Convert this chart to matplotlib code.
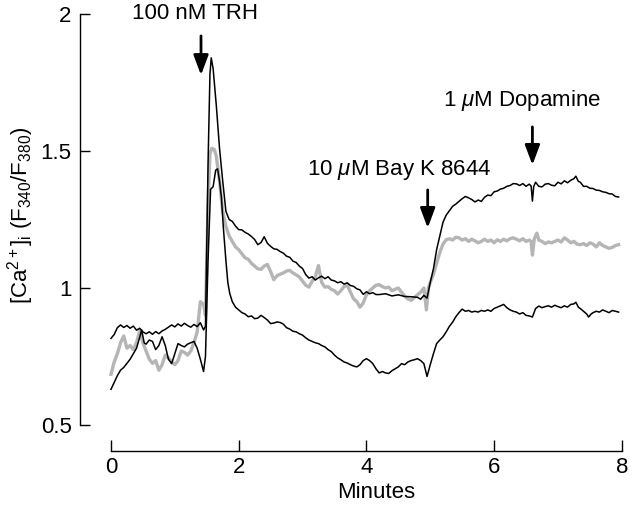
import matplotlib
matplotlib.use('Agg')
import matplotlib.pyplot as plt

# 字体：Helvetica 风格
plt.rcParams['font.family'] = ['Liberation Sans', 'DejaVu Sans']
plt.rcParams['mathtext.fontset'] = 'custom'
plt.rcParams['mathtext.rm'] = 'Liberation Sans'
plt.rcParams['mathtext.it'] = 'Liberation Sans:italic'
plt.rcParams['font.size'] = 16

# ---------- 数据 ----------
# 上面的黑线
t_top = [0.00, 0.05, 0.10, 0.15, 0.20, 0.25, 0.30, 0.35, 0.40, 0.45, 0.50, 0.55, 0.60, 0.65,
         0.70, 0.75, 0.80, 0.85, 0.90, 0.95, 1.00, 1.05, 1.10, 1.15, 1.20, 1.25, 1.30, 1.35,
         1.40, 1.45, 1.48, 1.52, 1.55, 1.57, 1.60, 1.65, 1.70, 1.75, 1.80, 1.85, 1.90, 1.95,
         2.00, 2.05, 2.10, 2.15, 2.20, 2.25, 2.30, 2.35, 2.40, 2.45, 2.50, 2.55, 2.60, 2.65,
         2.70, 2.75, 2.80, 2.85, 2.90, 2.95, 3.00, 3.05, 3.10, 3.15, 3.20, 3.25, 3.30, 3.35,
         3.40, 3.45, 3.50, 3.55, 3.60, 3.65, 3.70, 3.75, 3.80, 3.85, 3.90, 3.95, 4.00, 4.05,
         4.10, 4.15, 4.20, 4.30, 4.40, 4.50, 4.60, 4.70, 4.80, 4.85, 4.90, 4.95, 5.00, 5.05,
         5.10, 5.15, 5.20, 5.25, 5.30, 5.35, 5.40, 5.45, 5.50, 5.55, 5.60, 5.65, 5.70, 5.75,
         5.80, 5.85, 5.90, 5.95, 6.00, 6.05, 6.10, 6.15, 6.20, 6.25, 6.30, 6.35, 6.40, 6.45,
         6.50, 6.55, 6.58, 6.60, 6.62, 6.65, 6.70, 6.75, 6.80, 6.85, 6.90, 6.95, 7.00, 7.05,
         7.10, 7.15, 7.20, 7.25, 7.28, 7.32, 7.35, 7.40, 7.45, 7.50, 7.55, 7.60, 7.65, 7.70,
         7.75, 7.80, 7.85, 7.90, 7.95]
v_top = [0.816, 0.830, 0.855, 0.865, 0.856, 0.863, 0.853, 0.861, 0.846, 0.853, 0.840, 0.833, 0.840, 0.831,
         0.841, 0.833, 0.843, 0.849, 0.857, 0.865, 0.858, 0.869, 0.861, 0.871, 0.863, 0.857, 0.867, 0.859,
         0.873, 0.847, 0.860, 1.450, 1.780, 1.840, 1.800, 1.665, 1.510, 1.390, 1.280, 1.250, 1.243, 1.226,
         1.213, 1.212, 1.203, 1.197, 1.188, 1.177, 1.158, 1.166, 1.187, 1.163, 1.152, 1.143, 1.141, 1.133,
         1.127, 1.116, 1.112, 1.098, 1.093, 1.080, 1.071, 1.049, 1.036, 1.041, 1.029, 1.037, 1.043, 1.034,
         1.041, 1.029, 1.026, 1.019, 1.023, 1.014, 1.019, 1.009, 1.006, 0.997, 0.993, 0.977, 0.986, 0.979,
         0.983, 0.976, 0.976, 0.979, 0.971, 0.975, 0.969, 0.968, 0.966, 0.959, 0.973, 0.963, 1.020, 1.070,
         1.140, 1.190, 1.240, 1.266, 1.282, 1.298, 1.306, 1.316, 1.326, 1.334, 1.329, 1.323, 1.314, 1.321,
         1.316, 1.331, 1.339, 1.337, 1.351, 1.354, 1.361, 1.364, 1.371, 1.374, 1.381, 1.380, 1.374, 1.381,
         1.371, 1.379, 1.372, 1.317, 1.370, 1.386, 1.371, 1.369, 1.379, 1.381, 1.375, 1.373, 1.386, 1.380,
         1.391, 1.384, 1.393, 1.399, 1.408, 1.389, 1.386, 1.371, 1.371, 1.364, 1.363, 1.357, 1.356, 1.351,
         1.349, 1.344, 1.343, 1.334, 1.332]

# 灰线
t_gray = [0.00, 0.05, 0.10, 0.15, 0.20, 0.25, 0.30, 0.35, 0.40, 0.45, 0.50, 0.55, 0.60, 0.65,
          0.70, 0.75, 0.80, 0.85, 0.90, 0.95, 1.00, 1.05, 1.10, 1.15, 1.20, 1.25, 1.30, 1.35,
          1.40, 1.45, 1.48, 1.52, 1.55, 1.58, 1.62, 1.65, 1.70, 1.75, 1.80, 1.85, 1.90, 1.95,
          2.00, 2.05, 2.10, 2.15, 2.20, 2.25, 2.30, 2.35, 2.40, 2.45, 2.50, 2.55, 2.60, 2.65,
          2.70, 2.75, 2.80, 2.85, 2.90, 2.95, 3.00, 3.05, 3.10, 3.15, 3.20, 3.25, 3.30, 3.35,
          3.40, 3.45, 3.50, 3.55, 3.60, 3.65, 3.70, 3.75, 3.80, 3.85, 3.90, 3.95, 4.00, 4.05,
          4.10, 4.15, 4.20, 4.25, 4.30, 4.35, 4.40, 4.45, 4.50, 4.55, 4.60, 4.65, 4.70, 4.75,
          4.80, 4.85, 4.90, 4.94, 4.97, 5.00, 5.05, 5.10, 5.15, 5.20, 5.25, 5.30, 5.35, 5.40,
          5.45, 5.50, 5.55, 5.60, 5.65, 5.70, 5.75, 5.80, 5.85, 5.90, 5.95, 6.00, 6.05, 6.10,
          6.15, 6.20, 6.25, 6.30, 6.35, 6.40, 6.45, 6.50, 6.55, 6.58, 6.60, 6.63, 6.67, 6.70,
          6.75, 6.80, 6.85, 6.90, 6.95, 7.00, 7.05, 7.10, 7.15, 7.20, 7.25, 7.30, 7.35, 7.40,
          7.45, 7.50, 7.55, 7.60, 7.65, 7.70, 7.75, 7.80, 7.85, 7.90, 7.95]
v_gray = [0.685, 0.730, 0.760, 0.800, 0.825, 0.780, 0.790, 0.775, 0.800, 0.845, 0.800, 0.770, 0.740, 0.725,
          0.735, 0.700, 0.720, 0.755, 0.745, 0.730, 0.720, 0.735, 0.770, 0.765, 0.755, 0.770, 0.800, 0.840,
          0.950, 0.940, 0.900, 1.300, 1.490, 1.510, 1.505, 1.480, 1.390, 1.280, 1.225, 1.190, 1.170, 1.150,
          1.140, 1.125, 1.110, 1.105, 1.090, 1.080, 1.070, 1.068, 1.080, 1.086, 1.060, 1.030, 1.045, 1.050,
          1.055, 1.062, 1.064, 1.055, 1.048, 1.040, 1.025, 1.010, 1.003, 1.025, 1.040, 1.082, 1.020, 1.003,
          1.005, 0.995, 0.990, 0.978, 0.990, 1.005, 1.010, 0.985, 0.960, 0.950, 0.930, 0.945, 0.975, 0.990,
          1.000, 1.010, 1.012, 1.005, 1.000, 1.003, 0.990, 0.995, 1.000, 0.985, 0.970, 0.960, 0.955, 0.965,
          0.975, 0.985, 1.000, 0.920, 1.000, 1.020, 1.050, 1.090, 1.130, 1.160, 1.176, 1.180, 1.175, 1.185,
          1.183, 1.175, 1.180, 1.170, 1.178, 1.172, 1.165, 1.170, 1.178, 1.170, 1.175, 1.165, 1.176, 1.170,
          1.178, 1.172, 1.180, 1.183, 1.178, 1.172, 1.180, 1.170, 1.175, 1.170, 1.120, 1.180, 1.200, 1.175,
          1.170, 1.162, 1.168, 1.165, 1.170, 1.175, 1.168, 1.183, 1.175, 1.165, 1.170, 1.160, 1.158, 1.162,
          1.155, 1.165, 1.160, 1.150, 1.165, 1.155, 1.150, 1.145, 1.148, 1.155, 1.158]

# 下面的黑线
t_low = [0.00, 0.05, 0.10, 0.15, 0.20, 0.25, 0.30, 0.35, 0.40, 0.45, 0.48, 0.52, 0.55, 0.60,
         0.65, 0.70, 0.75, 0.80, 0.85, 0.90, 0.95, 1.00, 1.05, 1.10, 1.15, 1.20, 1.25, 1.30,
         1.35, 1.40, 1.45, 1.48, 1.52, 1.56, 1.60, 1.64, 1.67, 1.70, 1.73, 1.76, 1.80, 1.83,
         1.86, 1.90, 1.95, 2.00, 2.05, 2.10, 2.15, 2.20, 2.25, 2.30, 2.35, 2.40, 2.45, 2.50,
         2.55, 2.60, 2.65, 2.70, 2.75, 2.80, 2.85, 2.90, 2.95, 3.00, 3.05, 3.10, 3.15, 3.20,
         3.25, 3.30, 3.35, 3.40, 3.45, 3.50, 3.55, 3.60, 3.65, 3.70, 3.75, 3.80, 3.85, 3.90,
         3.95, 4.00, 4.05, 4.10, 4.15, 4.20, 4.25, 4.30, 4.35, 4.40, 4.45, 4.50, 4.55, 4.60,
         4.65, 4.70, 4.75, 4.80, 4.85, 4.90, 4.95, 5.00, 5.05, 5.10, 5.15, 5.20, 5.25, 5.30,
         5.35, 5.40, 5.45, 5.50, 5.55, 5.60, 5.65, 5.70, 5.75, 5.80, 5.85, 5.90, 5.95, 6.00,
         6.05, 6.10, 6.15, 6.20, 6.25, 6.30, 6.35, 6.40, 6.45, 6.50, 6.55, 6.60, 6.65, 6.70,
         6.75, 6.80, 6.85, 6.90, 6.95, 7.00, 7.05, 7.10, 7.15, 7.20, 7.25, 7.28, 7.32, 7.35,
         7.40, 7.45, 7.48, 7.52, 7.55, 7.60, 7.65, 7.70, 7.75, 7.80, 7.85, 7.90, 7.95]
v_low = [0.630, 0.655, 0.680, 0.700, 0.710, 0.725, 0.740, 0.760, 0.780, 0.820, 0.847, 0.800, 0.795, 0.810,
         0.805, 0.775, 0.790, 0.822, 0.790, 0.740, 0.724, 0.760, 0.797, 0.790, 0.785, 0.795, 0.800, 0.805,
         0.780, 0.740, 0.695, 0.750, 1.100, 1.360, 1.370, 1.430, 1.435, 1.390, 1.330, 1.220, 1.100, 1.020,
         0.980, 0.950, 0.930, 0.920, 0.910, 0.905, 0.895, 0.898, 0.888, 0.890, 0.900, 0.892, 0.883, 0.870,
         0.872, 0.876, 0.874, 0.868, 0.855, 0.850, 0.842, 0.840, 0.833, 0.828, 0.818, 0.810, 0.805, 0.800,
         0.797, 0.790, 0.785, 0.775, 0.768, 0.755, 0.745, 0.738, 0.730, 0.726, 0.720, 0.715, 0.712, 0.720,
         0.735, 0.742, 0.735, 0.724, 0.705, 0.690, 0.695, 0.690, 0.688, 0.698, 0.705, 0.712, 0.724, 0.720,
         0.730, 0.735, 0.738, 0.742, 0.735, 0.724, 0.677, 0.720, 0.760, 0.797, 0.810, 0.822, 0.840, 0.860,
         0.875, 0.895, 0.910, 0.923, 0.915, 0.918, 0.912, 0.915, 0.912, 0.918, 0.915, 0.920, 0.915, 0.925,
         0.930, 0.935, 0.940, 0.928, 0.920, 0.915, 0.912, 0.905, 0.910, 0.900, 0.898, 0.894, 0.925, 0.934,
         0.928, 0.932, 0.935, 0.930, 0.937, 0.932, 0.928, 0.935, 0.930, 0.940, 0.942, 0.948, 0.930, 0.925,
         0.915, 0.905, 0.894, 0.905, 0.910, 0.915, 0.912, 0.920, 0.915, 0.910, 0.918, 0.915, 0.912]

# 加药标注：文字、文字位置、箭头位置
labels = ['100 nM TRH', r'10 $\mu$M Bay K 8644', r'1 $\mu$M Dopamine']
label_t = [1.31, 4.51, 6.43]
label_v = [1.982, 1.412, 1.665]
arrow_t = [1.41, 4.96, 6.60]
arrow_top = [1.92, 1.358, 1.588]
arrow_tip = [1.777, 1.219, 1.449]

xticks = [0, 2, 4, 6, 8]
yticks = [0.5, 1, 1.5, 2]
yticklabels = ['0.5', '1', '1.5', '2']

# ---------- 作图 ----------
fig = plt.figure(figsize=(6.33, 5.05), dpi=100)
ax = fig.add_axes([80 / 633, 54 / 505, 545 / 633, 437 / 505])

ax.plot(t_gray, v_gray, color='#b5b5b5', lw=2.4)
ax.plot(t_top, v_top, color='k', lw=1.1)
ax.plot(t_low, v_low, color='k', lw=1.1)

for s, tx, vy in zip(labels, label_t, label_v):
    ax.text(tx, vy, s, ha='center', va='baseline', fontsize=16, clip_on=False)

for tx, top, tip in zip(arrow_t, arrow_top, arrow_tip):
    ax.annotate('', xy=(tx, tip), xytext=(tx, top),
                arrowprops=dict(arrowstyle='-|>,head_length=1.2,head_width=0.45',
                                lw=2.0, color='k', shrinkA=0, shrinkB=0,
                                mutation_scale=10))

ax.set_xlim(-0.485, 8.05)
ax.set_ylim(0.405, 2.0)

# 分离的坐标轴
ax.spines['top'].set_visible(False)
ax.spines['right'].set_visible(False)
ax.spines['left'].set_bounds(0.5, 2)
ax.spines['bottom'].set_bounds(0, 8)
for sp in ['left', 'bottom']:
    ax.spines[sp].set_linewidth(1.0)

ax.set_xticks(xticks)
ax.set_yticks(yticks)
ax.set_yticklabels(yticklabels)
ax.tick_params(axis='x', direction='in', length=8, width=1.0, pad=4, labelsize=16)
ax.tick_params(axis='y', direction='in', length=7, width=1.0, pad=6, labelsize=16)

ax.set_xlabel('Minutes', fontsize=16)
ax.xaxis.set_label_coords(0.543, -0.07)
ax.set_ylabel(r'[Ca$^{2+}$]$_\mathrm{i}$ (F$_{340}$/F$_{380}$)', fontsize=16)
ax.yaxis.set_label_coords(-0.08, 0.54)

fig.savefig('out.png', dpi=100)
